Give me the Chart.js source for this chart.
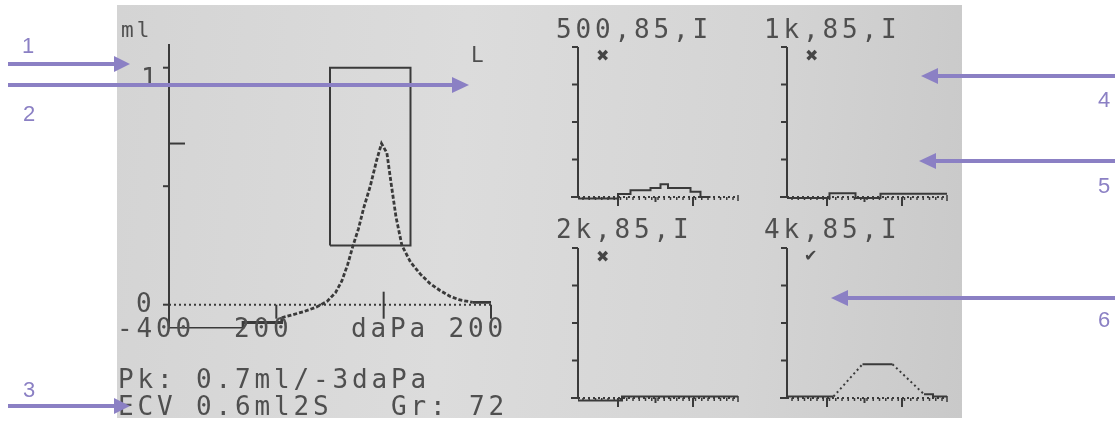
<!DOCTYPE html>
<html lang="en">
<head>
<meta charset="UTF-8">
<title>Tympanogram and reflex screen</title>
<script src="https://cdn.jsdelivr.net/npm/chart.js@4.4.1/dist/chart.umd.min.js"></script>
<style>
  body { margin: 0; background: #fff; width: 1115px; height: 423px; position: relative; overflow: hidden; }
  #screen { position: absolute; left: 117px; top: 5px; width: 845px; height: 413px;
            background: linear-gradient(95deg, #d4d4d4 0%, #dcdcdc 40%, #d4d4d4 75%, #c9c9c9 100%); }
  canvas { position: absolute; }
  #overlay { position: absolute; left: 0; top: 0; z-index: 2; }
  .lcd { font-family: 'DejaVu Sans Mono', monospace; fill: #4f4f4f; white-space: pre; font-size: 26px; letter-spacing: 3.85px; }
  .lcd.small { font-size: 21px; letter-spacing: 3px; }
  .mark { font-family: 'DejaVu Sans', sans-serif; fill: #464646; }
  .note { font-family: 'Liberation Sans', Arial, sans-serif; font-size: 22px; fill: #8b80c4; text-anchor: middle; }
</style>
</head>
<body>
<div id="screen"></div>
<canvas id="tymp" width="400" height="340" style="left:117px;top:5px"></canvas>
<canvas id="r500" width="192" height="175" style="left:560px;top:40px"></canvas>
<canvas id="r1k" width="192" height="175" style="left:769px;top:40px"></canvas>
<canvas id="r2k" width="192" height="175" style="left:560px;top:241px"></canvas>
<canvas id="r4k" width="192" height="175" style="left:769px;top:241px"></canvas>

<svg id="overlay" width="1115" height="423" xml:space="preserve">
  <text class="lcd small" x="121" y="37">ml</text>
  <text class="lcd small" x="471" y="62">L</text>
  <text class="lcd" x="141" y="87">1</text>
  <text class="lcd" x="136" y="312">0</text>
  <text class="lcd" x="117" y="337">-400  200   daPa 200</text>
  <text class="lcd" x="118" y="388">Pk: 0.7ml/-3daPa</text>
  <text class="lcd" x="118" y="415">ECV 0.6ml2S   Gr: 72</text>

  <text class="lcd" x="556" y="38">500,85,I</text>
  <text class="lcd" x="764" y="38">1k,85,I</text>
  <text class="lcd" x="556" y="238">2k,85,I</text>
  <text class="lcd" x="764" y="238">4k,85,I</text>
  <text class="mark" x="596" y="61" style="font-size:16px">✖</text>
  <text class="mark" x="805" y="61" style="font-size:16px">✖</text>
  <text class="mark" x="596" y="262" style="font-size:16px">✖</text>
  <text class="mark" x="804" y="261" style="font-size:16px">✔</text>

  <g stroke="#8b80c4" stroke-width="4" fill="#8b80c4">
    <line x1="8" y1="64" x2="116" y2="64"/><polygon stroke="none" points="114,56 130,64 114,72"/>
    <line x1="8" y1="85" x2="454" y2="85"/><polygon stroke="none" points="452,77 469,85 452,93"/>
    <line x1="8" y1="406" x2="116" y2="406"/><polygon stroke="none" points="114,398 130,406 114,414"/>
    <line x1="1115" y1="76" x2="936" y2="76"/><polygon stroke="none" points="938,68 921,76 938,84"/>
    <line x1="1115" y1="161" x2="934" y2="161"/><polygon stroke="none" points="936,153 919,161 936,169"/>
    <line x1="1115" y1="298" x2="846" y2="298"/><polygon stroke="none" points="848,290 831,298 848,306"/>
  </g>
  <text class="note" x="28" y="53">1</text>
  <text class="note" x="29" y="121">2</text>
  <text class="note" x="29" y="397">3</text>
  <text class="note" x="1104" y="107">4</text>
  <text class="note" x="1104" y="193">5</text>
  <text class="note" x="1104" y="327">6</text>
</svg>

<script>
// tympanogram: pressure (daPa) vs compliance (ml)
const tympPressure = [-400, -262, -262, -190, -190, -150, -125, -105, -90, -78, -67, -57, -47, -37, -25, -13, -4, 6, 14, 23, 34, 50, 68, 86, 105, 124, 142, 166, 200];
const tympVolume   = [-0.1, -0.1, -0.075, -0.075, -0.055, -0.03, -0.01, 0.015, 0.05, 0.1, 0.17, 0.25, 0.32, 0.41, 0.5, 0.61, 0.68, 0.64, 0.51, 0.37, 0.25, 0.18, 0.13, 0.09, 0.06, 0.035, 0.02, 0.01, 0.01];
const boxPressure  = [-100, -100, 50, 50, -100];
const boxVolume    = [0.25, 1.0, 1.0, 0.25, 0.25];
const pressureTicks = [-200, 0, 200];
const volumeTicks   = [0, 0.5, 1];
const peakVolume    = 0.68;

// acoustic reflex traces (time index vs response)
const time500   = [0, 8, 10.5, 14.5, 16.5, 18, 22.5, 24.5, 26.5];
const reflex500 = [0.015, -0.01, 0.02, 0.045, 0.06, 0.085, 0.06, 0.035, 0];
const time1k    = [0, 8.5, 13.7, 18.7, 22.3, 32];
const reflex1k  = [0.015, -0.006, 0.025, -0.006, 0.022, 0.022];
const time2k    = [0, 8.8, 14.5, 32];
const reflex2k  = [0.01, -0.016, 0.01, 0.01];
const time4k    = [0, 9.3, 15.1, 21.1, 27.4, 29.2, 29.2, 32];
const reflex4k  = [0.01, 0.01, 0.225, 0.225, 0.025, 0.025, 0.01, 0.01];
const reflexTicks = [0.25, 0.5, 0.75, 1];
const timeMajorTicks = [8, 23];
const timeMidTicks = [15.5];

const ink = '#3a3a3a';

function points(xs, ys) { return xs.map((v, i) => ({ x: v, y: ys[i] })); }
const slopeDash = dash => ctx =>
  (ctx.p0.parsed.x !== ctx.p1.parsed.x && ctx.p0.parsed.y !== ctx.p1.parsed.y) ? dash : undefined;

function seg(ctx, x1, y1, x2, y2) { ctx.beginPath(); ctx.moveTo(x1, y1); ctx.lineTo(x2, y2); ctx.stroke(); }

const tympAxes = {
  id: 'tympAxes',
  beforeDatasetsDraw(chart) {
    const { ctx, chartArea, scales: { x, y } } = chart;
    const x0 = x.getPixelForValue(-400), y0 = y.getPixelForValue(0);
    ctx.save();
    ctx.strokeStyle = ink; ctx.lineWidth = 2;
    seg(ctx, x0, chartArea.top, x0, chartArea.bottom);
    volumeTicks.forEach(v => { const p = y.getPixelForValue(v); seg(ctx, x0 - 6, p, x0, p); });
    const pk = y.getPixelForValue(peakVolume);
    seg(ctx, x0, pk, x0 + 16, pk);
    pressureTicks.forEach(v => {
      const p = x.getPixelForValue(v);
      seg(ctx, p, v === 0 ? y0 - 13 : y0, p, y0 + 14);
    });
    ctx.setLineDash([2, 3]);
    seg(ctx, x0, y0, chartArea.right, y0);
    ctx.restore();
  }
};

const reflexAxes = {
  id: 'reflexAxes',
  beforeDatasetsDraw(chart) {
    const { ctx, chartArea, scales: { x, y } } = chart;
    const x0 = x.getPixelForValue(0), y0 = y.getPixelForValue(0);
    ctx.save();
    ctx.strokeStyle = ink; ctx.lineWidth = 2;
    seg(ctx, x0, y.getPixelForValue(1), x0, y0);
    reflexTicks.forEach(v => { const p = y.getPixelForValue(v); seg(ctx, x0 - 6, p, x0, p); });
    seg(ctx, x0 - 7, y0, x0, y0);
    timeMajorTicks.forEach(v => { const p = x.getPixelForValue(v); seg(ctx, p, y0, p, y0 + 9); });
    timeMidTicks.forEach(v => { const p = x.getPixelForValue(v); seg(ctx, p, y0, p, y0 + 5); });
    ctx.lineWidth = 1.5;
    for (let t = 1; t < 32; t += 1.25) { const p = x.getPixelForValue(t); seg(ctx, p, y0, p, y0 + 3); }
    seg(ctx, chartArea.right, y0 - 2, chartArea.right, y0 + 4);
    ctx.setLineDash([2, 3]); ctx.lineWidth = 2;
    seg(ctx, x0, y0, chartArea.right, y0);
    ctx.restore();
  }
};

function lcdChart(id, datasets, xr, yr, padding, axes) {
  return new Chart(document.getElementById(id), {
    type: 'line',
    data: { datasets },
    options: {
      responsive: false, animation: false, events: [],
      layout: { padding },
      plugins: { legend: { display: false }, tooltip: { enabled: false } },
      scales: {
        x: { type: 'linear', min: xr[0], max: xr[1], display: false },
        y: { type: 'linear', min: yr[0], max: yr[1], display: false }
      },
      elements: { point: { radius: 0 }, line: { tension: 0, borderColor: ink, fill: false } }
    },
    plugins: [axes]
  });
}

lcdChart('tymp', [
  { data: points(tympPressure, tympVolume), borderWidth: 2.8, segment: { borderDash: slopeDash([4, 2]) } },
  { data: points(boxPressure, boxVolume), borderWidth: 2 }
], [-400, 200], [-0.1, 1.1], { left: 52, right: 26, top: 39, bottom: 16.6 }, tympAxes);

const smallPad = { left: 18, right: 14, top: 7, bottom: 10.5 };
lcdChart('r500', [{ data: points(time500, reflex500), borderWidth: 2, stepped: 'after' }], [0, 32], [-0.05, 1], smallPad, reflexAxes);
lcdChart('r1k', [{ data: points(time1k, reflex1k), borderWidth: 2, stepped: 'after' }], [0, 32], [-0.05, 1], smallPad, reflexAxes);
lcdChart('r2k', [{ data: points(time2k, reflex2k), borderWidth: 2, stepped: 'after' }], [0, 32], [-0.05, 1], smallPad, reflexAxes);
lcdChart('r4k', [{ data: points(time4k, reflex4k), borderWidth: 2, segment: { borderDash: slopeDash([2, 3]) } }], [0, 32], [-0.05, 1], smallPad, reflexAxes);
</script>
</body>
</html>
